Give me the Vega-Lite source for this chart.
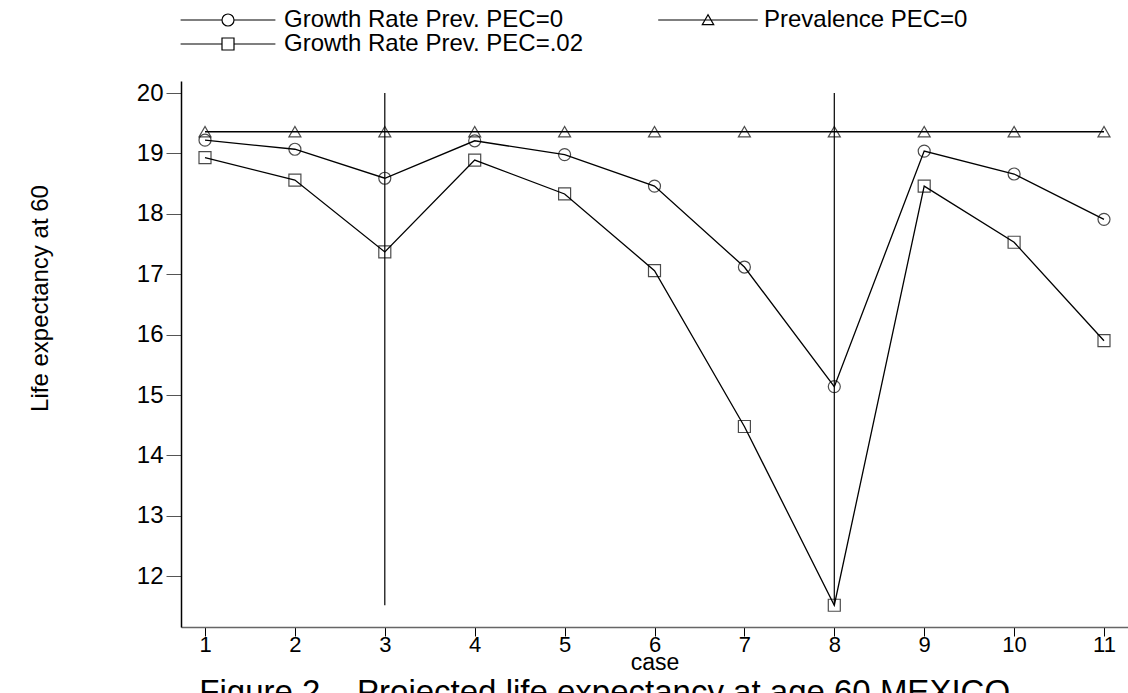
{
  "$schema": "https://vega.github.io/schema/vega-lite/v6.json",
  "width": 947,
  "height": 546,
  "autosize": {"type": "none"},
  "padding": {"left": 181, "top": 81, "right": 0, "bottom": 66},
  "background": "white",
  "config": {
    "view": {"stroke": null},
    "font": "Liberation Sans",
    "axis": {"grid": false, "labelColor": "black", "titleColor": "black", "labelFont": "Liberation Sans", "titleFont": "Liberation Sans", "titleFontWeight": "normal"},
    "legend": {"labelFont": "Liberation Sans", "labelColor": "black"}
  },
  "title": {
    "text": "Figure 2 – Projected life expectancy at age 60 MEXICO",
    "orient": "bottom",
    "anchor": "start",
    "dx": 171,
    "offset": 3,
    "fontSize": 33,
    "fontWeight": "normal",
    "font": "Liberation Sans",
    "color": "black"
  },
  "resolve": {"scale": {"shape": "independent"}},
  "datasets": {
    "series": [
      {"case": 1, "series": "Growth Rate Prev. PEC=0", "value": 19.22},
      {"case": 2, "series": "Growth Rate Prev. PEC=0", "value": 19.07},
      {"case": 3, "series": "Growth Rate Prev. PEC=0", "value": 18.59},
      {"case": 4, "series": "Growth Rate Prev. PEC=0", "value": 19.21},
      {"case": 5, "series": "Growth Rate Prev. PEC=0", "value": 18.98},
      {"case": 6, "series": "Growth Rate Prev. PEC=0", "value": 18.46},
      {"case": 7, "series": "Growth Rate Prev. PEC=0", "value": 17.12},
      {"case": 8, "series": "Growth Rate Prev. PEC=0", "value": 15.14},
      {"case": 9, "series": "Growth Rate Prev. PEC=0", "value": 19.04},
      {"case": 10, "series": "Growth Rate Prev. PEC=0", "value": 18.66},
      {"case": 11, "series": "Growth Rate Prev. PEC=0", "value": 17.91},
      {"case": 1, "series": "Prevalence PEC=0", "value": 19.36},
      {"case": 2, "series": "Prevalence PEC=0", "value": 19.36},
      {"case": 3, "series": "Prevalence PEC=0", "value": 19.36},
      {"case": 4, "series": "Prevalence PEC=0", "value": 19.36},
      {"case": 5, "series": "Prevalence PEC=0", "value": 19.36},
      {"case": 6, "series": "Prevalence PEC=0", "value": 19.36},
      {"case": 7, "series": "Prevalence PEC=0", "value": 19.36},
      {"case": 8, "series": "Prevalence PEC=0", "value": 19.36},
      {"case": 9, "series": "Prevalence PEC=0", "value": 19.36},
      {"case": 10, "series": "Prevalence PEC=0", "value": 19.36},
      {"case": 11, "series": "Prevalence PEC=0", "value": 19.36},
      {"case": 1, "series": "Growth Rate Prev. PEC=.02", "value": 18.93},
      {"case": 2, "series": "Growth Rate Prev. PEC=.02", "value": 18.56},
      {"case": 3, "series": "Growth Rate Prev. PEC=.02", "value": 17.37},
      {"case": 4, "series": "Growth Rate Prev. PEC=.02", "value": 18.89},
      {"case": 5, "series": "Growth Rate Prev. PEC=.02", "value": 18.33},
      {"case": 6, "series": "Growth Rate Prev. PEC=.02", "value": 17.06},
      {"case": 7, "series": "Growth Rate Prev. PEC=.02", "value": 14.48},
      {"case": 8, "series": "Growth Rate Prev. PEC=.02", "value": 11.52},
      {"case": 9, "series": "Growth Rate Prev. PEC=.02", "value": 18.46},
      {"case": 10, "series": "Growth Rate Prev. PEC=.02", "value": 17.53},
      {"case": 11, "series": "Growth Rate Prev. PEC=.02", "value": 15.90}
    ],
    "spikes": [
      {"case": 3, "low": 11.52, "high": 20},
      {"case": 8, "low": 11.52, "high": 20}
    ]
  },
  "layer": [
    {
      "data": {"name": "spikes"},
      "mark": {"type": "rule", "color": "black", "strokeWidth": 1.2},
      "encoding": {
        "x": {"field": "case", "type": "quantitative", "scale": {"domain": [0.733, 11.267], "nice": false, "zero": false}},
        "y": {"field": "low", "type": "quantitative", "scale": {"domain": [11.16, 20.2], "nice": false, "zero": false}},
        "y2": {"field": "high"}
      }
    },
    {
      "data": {"name": "series"},
      "mark": {"type": "line", "color": "black", "strokeWidth": 1.3},
      "encoding": {
        "x": {"field": "case", "type": "quantitative"},
        "y": {"field": "value", "type": "quantitative"},
        "detail": {"field": "series", "type": "nominal"}
      }
    },
    {
      "data": {"name": "series"},
      "mark": {"type": "point", "filled": false, "color": "black", "strokeWidth": 1.2, "size": 144, "opacity": 0},
      "encoding": {
        "x": {"field": "case", "type": "quantitative"},
        "y": {"field": "value", "type": "quantitative"},
        "shape": {
          "field": "series", "type": "nominal",
          "scale": {"domain": ["Growth Rate Prev. PEC=0", "Prevalence PEC=0", "Growth Rate Prev. PEC=.02"], "range": ["M-7.9,0H-1M-1,0A1,1,0,1,1,1,0A1,1,0,1,1,-1,0M1,0H7.9", "M-8.3,0H8.3M0,-0.87L-0.95,0.78L0.95,0.78Z", "M-7.9,0H-1M-1,-1H1V1H-1ZM1,0H7.9"]},
          "legend": {
            "title": null,
            "orient": "none",
            "direction": "horizontal",
            "legendX": -1,
            "legendY": -73,
            "columns": 2,
            "columnPadding": 71,
            "rowPadding": 0,
            "labelFontSize": 24,
            "labelLimit": 600,
            "symbolSize": 144,
            "symbolOffset": 36,
            "labelOffset": 44,
            "symbolOpacity": 1,
            "symbolStrokeColor": "black",
            "symbolStrokeWidth": 1.2,
            "symbolFillColor": "white"
          }
        }
      }
    },
    {
      "data": {"name": "series"},
      "mark": {"type": "point", "filled": false, "color": "black", "strokeWidth": 1.2, "size": 144},
      "encoding": {
        "x": {
          "field": "case", "type": "quantitative",
          "axis": {"values": [1,2,3,4,5,6,7,8,9,10,11], "format": "d", "title": "case", "titleFontSize": 23, "titlePadding": -4, "labelFontSize": 22, "tickSize": 9, "labelPadding": -2, "domainColor": "#666", "tickColor": "black", "domainWidth": 1.5, "labelFlush": false}
        },
        "y": {
          "field": "value", "type": "quantitative",
          "axis": {"values": [12,13,14,15,16,17,18,19,20], "format": "d", "title": "Life expectancy at 60", "titleFontSize": 24, "titlePadding": 84, "titleY": 217, "labelFontSize": 24, "tickSize": 15, "labelPadding": 3, "domainColor": "black", "tickColor": "#555", "domainWidth": 1.5}
        },
        "shape": {
          "field": "series", "type": "nominal",
          "scale": {"domain": ["Growth Rate Prev. PEC=0", "Prevalence PEC=0", "Growth Rate Prev. PEC=.02"], "range": ["circle", "triangle-up", "square"]},
          "legend": null
        }
      }
    }
  ]
}
